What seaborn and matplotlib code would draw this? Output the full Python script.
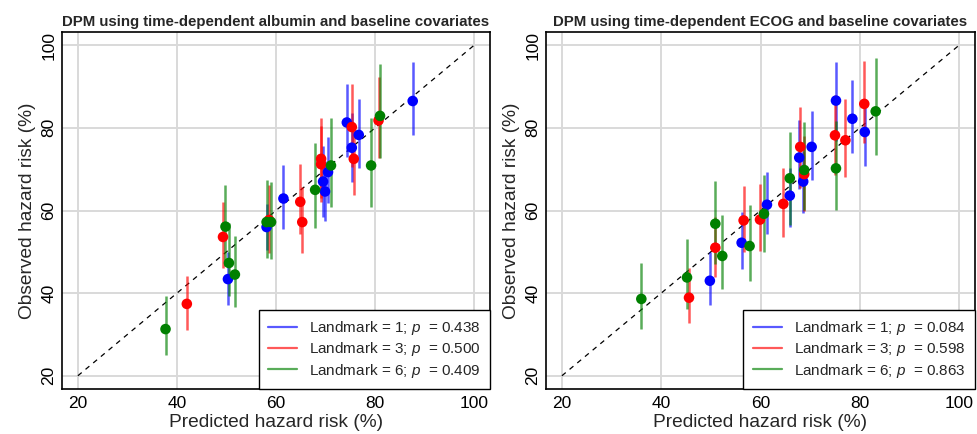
import numpy as np
import pandas as pd
import matplotlib
matplotlib.use("Agg")
import matplotlib.pyplot as plt
from matplotlib.lines import Line2D
import seaborn as sns

# ---- calibration data: albumin model ----
alb_lm1_pred = [87.6, 74.3, 76.7, 75.3, 70.5, 69.5, 69.9, 61.5, 58.1, 50.3]
alb_lm1_obs = [86.5, 81.3, 78.3, 75.2, 69.3, 67.0, 64.6, 62.9, 56.0, 43.4]
alb_lm1_lo = [78.2, 73.0, 70.3, 67.0, 61.8, 58.5, 57.4, 55.6, 50.5, 37.2]
alb_lm1_hi = [96.0, 90.5, 87.1, 83.5, 77.8, 75.5, 72.0, 70.9, 61.5, 50.0]

alb_lm3_pred = [80.7, 75.3, 75.7, 69.1, 69.1, 64.9, 65.3, 58.6, 49.3, 42.0]
alb_lm3_obs = [81.8, 80.2, 72.5, 72.5, 71.2, 62.1, 57.2, 57.7, 53.6, 37.4]
alb_lm3_lo = [72.7, 70.5, 63.8, 63.0, 62.0, 54.2, 49.7, 49.8, 46.2, 31.2]
alb_lm3_hi = [92.2, 90.5, 81.0, 82.3, 80.5, 71.2, 65.8, 66.2, 62.1, 44.2]

alb_lm6_pred = [81.0, 79.2, 71.1, 67.9, 58.1, 59.0, 49.8, 50.5, 51.7, 37.7]
alb_lm6_obs = [82.9, 70.9, 70.9, 65.0, 57.2, 57.2, 56.1, 47.3, 44.5, 31.3]
alb_lm6_lo = [72.7, 60.8, 60.8, 55.7, 48.5, 48.3, 46.5, 39.4, 36.7, 25.0]
alb_lm6_hi = [95.5, 82.3, 82.3, 76.3, 67.5, 67.0, 66.2, 57.0, 53.8, 39.3]

# ---- calibration data: ECOG model ----
ecog_lm1_pred = [75.2, 78.5, 81.0, 70.3, 67.8, 68.6, 65.9, 61.3, 56.2, 49.8]
ecog_lm1_obs = [86.6, 82.2, 79.0, 75.4, 72.8, 67.0, 63.6, 61.4, 52.2, 43.0]
ecog_lm1_lo = [76.8, 74.0, 70.8, 67.4, 65.2, 59.4, 56.0, 54.2, 45.8, 37.2]
ecog_lm1_hi = [96.0, 91.6, 87.0, 84.2, 81.8, 74.5, 70.4, 69.4, 59.6, 50.0]

ecog_lm3_pred = [80.9, 75.0, 77.1, 68.0, 68.8, 64.6, 59.9, 56.6, 50.9, 45.6]
ecog_lm3_obs = [85.8, 78.2, 77.0, 75.4, 68.8, 61.6, 57.8, 57.6, 51.0, 38.9]
ecog_lm3_lo = [76.4, 68.5, 68.0, 65.5, 60.0, 53.6, 50.2, 50.0, 44.0, 32.8]
ecog_lm3_hi = [96.3, 88.0, 87.0, 85.0, 78.0, 70.4, 66.4, 66.0, 58.5, 46.0]

ecog_lm6_pred = [83.2, 75.2, 68.8, 65.9, 60.7, 57.8, 52.3, 50.9, 45.2, 36.0]
ecog_lm6_obs = [84.0, 70.2, 69.8, 67.8, 59.2, 51.4, 49.0, 56.8, 43.8, 38.6]
ecog_lm6_lo = [73.4, 60.2, 60.2, 56.4, 50.0, 43.0, 41.0, 47.0, 36.2, 31.4]
ecog_lm6_hi = [96.8, 81.6, 81.4, 79.0, 68.5, 61.4, 59.0, 67.2, 53.2, 47.4]

landmarks = [1, 3, 6]
alb_pvalues = ["0.438", "0.500", "0.409"]
ecog_pvalues = ["0.084", "0.598", "0.863"]
titles = ["DPM using time-dependent albumin and baseline covariates",
          "DPM using time-dependent ECOG and baseline covariates"]
ticks = [20, 40, 60, 80, 100]
colors = {1: "#0000FF", 3: "#FF0000", 6: "#008000"}


def build_frame(groups):
    rows = []
    for lm, (pred, obs, lo, hi) in zip(landmarks, groups):
        for p, o, l, h in zip(pred, obs, lo, hi):
            rows.append({"landmark": lm, "pred": p, "obs": o, "lo": l, "hi": h})
    return pd.DataFrame(rows)


alb_df = build_frame([
    (alb_lm1_pred, alb_lm1_obs, alb_lm1_lo, alb_lm1_hi),
    (alb_lm3_pred, alb_lm3_obs, alb_lm3_lo, alb_lm3_hi),
    (alb_lm6_pred, alb_lm6_obs, alb_lm6_lo, alb_lm6_hi),
])
ecog_df = build_frame([
    (ecog_lm1_pred, ecog_lm1_obs, ecog_lm1_lo, ecog_lm1_hi),
    (ecog_lm3_pred, ecog_lm3_obs, ecog_lm3_lo, ecog_lm3_hi),
    (ecog_lm6_pred, ecog_lm6_obs, ecog_lm6_lo, ecog_lm6_hi),
])

sns.set_theme(style="white")
plt.rcParams["font.family"] = ["Liberation Sans", "DejaVu Sans"]
plt.rcParams["mathtext.fontset"] = "custom"
plt.rcParams["mathtext.rm"] = "Liberation Sans"
plt.rcParams["mathtext.it"] = "Liberation Sans:italic"

fig = plt.figure(figsize=(9.77, 4.34), dpi=100)
ax_left = fig.add_axes([62 / 977, 45 / 434, 428 / 977, 357 / 434])
ax_right = fig.add_axes([546 / 977, 45 / 434, 429 / 977, 357 / 434])


def draw_panel(ax, df, pvalues, title):
    ax.set_axisbelow(True)
    ax.grid(True, color="#D9D9D9", linewidth=1.4)
    ax.plot([20, 100], [20, 100], color="black", linewidth=0.9,
            linestyle=(0, (4, 4)), zorder=1)
    for lm in landmarks:
        sub = df[df["landmark"] == lm]
        ax.vlines(sub["pred"], sub["lo"], sub["hi"], colors=colors[lm],
                  linewidth=1.8, alpha=0.65, zorder=2)
    sns.scatterplot(data=df, x="pred", y="obs", hue="landmark",
                    palette=colors, s=58, linewidth=0, legend=False,
                    ax=ax, zorder=3)
    ax.set_xlim(16.8, 103.2)
    ax.set_ylim(16.8, 103.2)
    ax.set_xticks(ticks)
    ax.set_yticks(ticks)
    ax.set_xticklabels([str(t) for t in ticks], fontsize=12.5)
    ax.set_yticklabels([str(t) for t in ticks], fontsize=12.5,
                       rotation=90, va="center")
    ax.tick_params(axis="both", length=0, colors="black")
    ax.tick_params(axis="x", pad=5)
    ax.tick_params(axis="y", pad=4)
    ax.set_xlabel("Predicted hazard risk (%)", fontsize=13.8, labelpad=2)
    ax.set_ylabel("Observed hazard risk (%)", fontsize=13.8, labelpad=4)
    ax.set_title(title, fontsize=10.8, fontweight="bold", pad=4)
    for sp in ax.spines.values():
        sp.set_color("black")
        sp.set_linewidth(1.2)
    handles = [Line2D([], [], color=colors[lm], linewidth=1.6, alpha=0.65)
               for lm in landmarks]
    labels = [f"Landmark = {lm}; $p$  = {pv}" for lm, pv in zip(landmarks, pvalues)]
    leg = ax.legend(handles, labels, loc="lower right", fontsize=11,
                    frameon=True, fancybox=False, borderaxespad=0,
                    handlelength=1.9, handletextpad=0.8, labelspacing=0.22,
                    borderpad=0.6)
    frame = leg.get_frame()
    frame.set_edgecolor("black")
    frame.set_linewidth(1.0)
    frame.set_alpha(1)


draw_panel(ax_left, alb_df, alb_pvalues, titles[0])
draw_panel(ax_right, ecog_df, ecog_pvalues, titles[1])

fig.savefig("out.png", dpi=100)
